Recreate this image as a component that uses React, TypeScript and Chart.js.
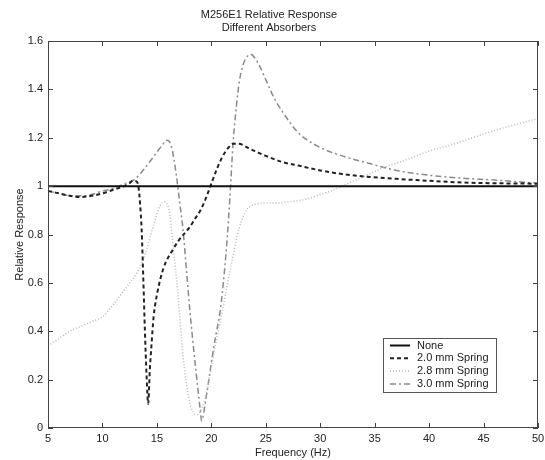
import React, { useEffect, useRef } from "react";
import { Chart, registerables } from "chart.js";

Chart.register(...registerables);

const titleLines = ["M256E1 Relative Response", "Different Absorbers"];
const xLabel = "Frequency (Hz)";
const yLabel = "Relative Response";

const seriesNames = ["None", "2.0 mm Spring", "2.8 mm Spring", "3.0 mm Spring"];

const freqNone = [5, 50];
const respNone = [1, 1];

const freq20 = [5, 6, 7, 8, 9, 10, 11, 12, 12.5, 12.8, 13.1, 13.3, 13.45, 13.6, 13.75, 13.9, 14.05, 14.2, 14.35, 14.5, 14.7, 15, 15.6, 16.5, 17, 18, 18.5, 19, 19.5, 20, 20.5, 21, 21.5, 22, 22.5, 23.5, 25, 26.5, 28, 30, 32, 34, 37, 40, 43, 46, 50];
const resp20 = [0.98, 0.97, 0.96, 0.955, 0.96, 0.97, 0.985, 1.0, 1.012, 1.022, 1.02, 1.0, 0.93, 0.82, 0.62, 0.4, 0.22, 0.1, 0.24, 0.34, 0.46, 0.55, 0.66, 0.74, 0.775, 0.83, 0.865, 0.9, 0.95, 1.01, 1.07, 1.12, 1.155, 1.175, 1.175, 1.155, 1.125, 1.1, 1.085, 1.065, 1.05, 1.04, 1.03, 1.022, 1.015, 1.012, 1.01];

const freq28 = [5, 6, 7, 8, 9, 10, 11, 12, 13, 13.7, 14.2, 14.7, 15.3, 15.7, 16, 16.2, 16.5, 16.9, 17.4, 17.9, 18.3, 18.7, 19.1, 19.6, 20, 20.5, 21, 21.4, 21.9, 22.3, 22.8, 23.3, 24, 25, 26, 27, 28, 29, 30, 31, 32, 34, 36, 38, 40, 42, 44, 46, 48, 50];
const resp28 = [0.34, 0.37, 0.4, 0.42, 0.44, 0.46, 0.51, 0.57, 0.63, 0.69, 0.76, 0.84, 0.92, 0.935, 0.92, 0.88, 0.75, 0.57, 0.3, 0.13, 0.068, 0.055, 0.08, 0.15, 0.25, 0.37, 0.48, 0.575, 0.69, 0.78, 0.86, 0.905, 0.925, 0.93, 0.93, 0.935, 0.94, 0.95, 0.965, 0.98, 1.0, 1.04, 1.08, 1.11, 1.145, 1.17, 1.2, 1.23, 1.255, 1.28];

const freq30 = [5, 6, 7, 8, 9, 10, 11, 12, 13, 14, 14.5, 15, 15.5, 15.9, 16.3, 16.8, 17.1, 17.4, 17.7, 18, 18.3, 18.6, 19, 19.1, 19.5, 20, 20.4, 20.8, 21.1, 21.4, 21.7, 22, 22.3, 22.6, 22.9, 23.2, 23.6, 24, 24.5, 25, 25.7, 26.5, 28, 30, 32, 34, 37, 40, 43, 46, 50];
const resp30 = [0.98, 0.97, 0.96, 0.96, 0.965, 0.98, 0.99, 1.01, 1.03, 1.08, 1.11, 1.14, 1.17, 1.19, 1.17, 1.04, 0.93, 0.82, 0.66, 0.5, 0.36, 0.23, 0.068, 0.03, 0.12, 0.27, 0.38, 0.48, 0.6, 0.75, 0.95, 1.18, 1.33, 1.44, 1.5, 1.53, 1.545, 1.53, 1.49, 1.44, 1.37, 1.31, 1.22, 1.16, 1.125, 1.1, 1.065, 1.045, 1.033, 1.025, 1.012];

const xTicks = [5, 10, 15, 20, 25, 30, 35, 40, 45, 50];
const yTicks = [0, 0.2, 0.4, 0.6, 0.8, 1, 1.2, 1.4, 1.6];

const FONT = "'Liberation Sans', Arial, Helvetica, sans-serif";

const toPts = (xs: number[], ys: number[]) => xs.map((x, i) => ({ x, y: ys[i] }));

const frameTicksPlugin = {
  id: "frameTicks",
  afterDatasetsDraw(chart: any) {
    const { ctx, chartArea: a, scales } = chart;
    ctx.save();
    ctx.strokeStyle = "#444";
    ctx.lineWidth = 1;
    ctx.strokeRect(a.left + 0.5, a.top + 0.5, a.right - a.left - 1, a.bottom - a.top - 1);
    const L = 5;
    ctx.beginPath();
    xTicks.forEach((v) => {
      const px = Math.round(scales.x.getPixelForValue(v)) + 0.5;
      ctx.moveTo(px, a.bottom);
      ctx.lineTo(px, a.bottom - L);
      ctx.moveTo(px, a.top);
      ctx.lineTo(px, a.top + L);
    });
    yTicks.forEach((v) => {
      const py = Math.round(scales.y.getPixelForValue(v)) + 0.5;
      ctx.moveTo(a.left, py);
      ctx.lineTo(a.left + L, py);
      ctx.moveTo(a.right, py);
      ctx.lineTo(a.right - L, py);
    });
    ctx.stroke();
    ctx.restore();
  },
};

const legendPlugin = {
  id: "boxLegend",
  afterDraw(chart: any) {
    const { ctx, chartArea: a } = chart;
    const w = 113, rowH = 12.8;
    const h = 54;
    const x0 = a.right - 155;
    const y0 = a.bottom - 90;
    ctx.save();
    ctx.fillStyle = "#fff";
    ctx.fillRect(x0, y0, w, h);
    ctx.strokeStyle = "#555";
    ctx.lineWidth = 1;
    ctx.strokeRect(x0 + 0.5, y0 + 0.5, w, h);
    ctx.font = `11px ${FONT}`;
    ctx.textBaseline = "middle";
    chart.data.datasets.forEach((ds: any, i: number) => {
      const cy = y0 + 7.5 + rowH * i;
      ctx.beginPath();
      ctx.setLineDash(ds.borderDash || []);
      ctx.strokeStyle = ds.borderColor;
      ctx.lineWidth = ds.borderWidth;
      ctx.moveTo(x0 + 7, cy);
      ctx.lineTo(x0 + 27, cy);
      ctx.stroke();
      ctx.setLineDash([]);
      ctx.fillStyle = "#222";
      ctx.fillText(ds.label, x0 + 34, cy);
    });
    ctx.restore();
  },
};

export default function App() {
  const ref = useRef<HTMLCanvasElement | null>(null);

  useEffect(() => {
    document.body.style.margin = "0";
    const canvas = ref.current;
    if (!canvas) return;
    const chart = new Chart(canvas, {
      type: "line",
      data: {
        datasets: [
          {
            label: seriesNames[0],
            data: toPts(freqNone, respNone),
            borderColor: "#111",
            borderWidth: 2,
            pointRadius: 0,
          },
          {
            label: seriesNames[1],
            data: toPts(freq20, resp20),
            borderColor: "#222",
            borderWidth: 2,
            borderDash: [4, 3],
            pointRadius: 0,
            cubicInterpolationMode: "monotone",
          },
          {
            label: seriesNames[2],
            data: toPts(freq28, resp28),
            borderColor: "#b8b8b8",
            borderWidth: 1.5,
            borderDash: [1, 2],
            pointRadius: 0,
            cubicInterpolationMode: "monotone",
          },
          {
            label: seriesNames[3],
            data: toPts(freq30, resp30),
            borderColor: "#8a8a8a",
            borderWidth: 1.5,
            borderDash: [6, 3, 2, 3],
            pointRadius: 0,
            cubicInterpolationMode: "monotone",
          },
        ],
      },
      options: {
        animation: false,
        responsive: false,
        maintainAspectRatio: false,
        layout: { padding: { left: 0, right: 7, top: 0, bottom: 0 } },
        plugins: {
          legend: { display: false },
          tooltip: { enabled: false },
          title: {
            display: true,
            text: titleLines,
            color: "#222",
            font: { family: FONT, size: 11, weight: "normal", lineHeight: 1.2 },
            padding: { top: 8, bottom: 6.6 },
          },
        },
        scales: {
          x: {
            type: "linear",
            min: 5,
            max: 50,
            afterBuildTicks: (s: any) => {
              s.ticks = xTicks.map((v) => ({ value: v }));
            },
            afterFit: (s: any) => {
              s.height = 32;
              s.paddingLeft = 0;
              s.paddingRight = 0;
            },
            grid: { display: false, drawTicks: false },
            border: { display: false },
            ticks: {
              color: "#222",
              padding: 4,
              maxRotation: 0,
              autoSkip: false,
              font: { family: FONT, size: 11 },
            },
            title: {
              display: true,
              text: xLabel,
              color: "#222",
              font: { family: FONT, size: 11 },
              padding: { top: 0, bottom: 0 },
            },
          },
          y: {
            type: "linear",
            min: 0,
            max: 1.6,
            afterBuildTicks: (s: any) => {
              s.ticks = yTicks.map((v) => ({ value: v }));
            },
            afterFit: (s: any) => {
              s.width = 48;
              s.paddingTop = 0;
              s.paddingBottom = 0;
            },
            grid: { display: false, drawTicks: false },
            border: { display: false },
            ticks: {
              color: "#222",
              padding: 5,
              autoSkip: false,
              font: { family: FONT, size: 11 },
              callback: (v: any) => String(Math.round(Number(v) * 10) / 10),
            },
            title: {
              display: true,
              text: yLabel,
              color: "#222",
              font: { family: FONT, size: 11 },
              padding: { top: 13, bottom: 4 },
            },
          },
        },
      },
      plugins: [frameTicksPlugin, legendPlugin],
    } as any);
    return () => chart.destroy();
  }, []);

  return (
    <div style={{ width: 545, height: 460, background: "#fff" }}>
      <canvas ref={ref} width={545} height={460} style={{ display: "block" }} />
    </div>
  );
}
